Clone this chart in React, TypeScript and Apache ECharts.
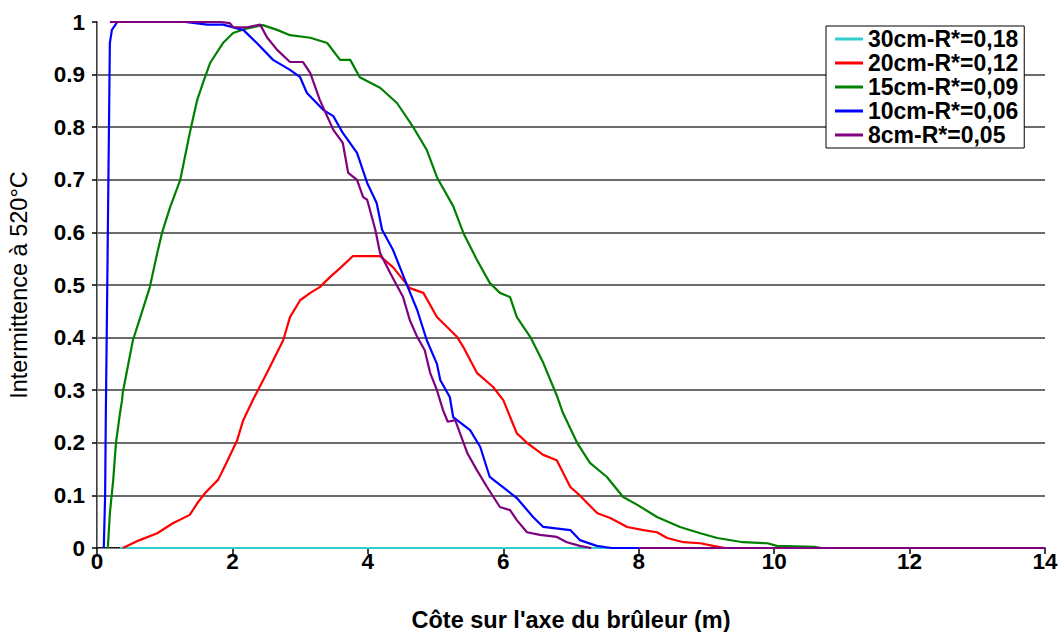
import React, { useEffect, useRef } from "react";
import * as echarts from "echarts";

const seriesNames = ["30cm-R*=0,18", "20cm-R*=0,12", "15cm-R*=0,09", "10cm-R*=0,06", "8cm-R*=0,05"];
const seriesColors = ["#33cccc", "#ff0000", "#008000", "#0000ff", "#800080"];

const data30cm: (number | string)[][] = [[0.34, 0], [14, 0]];

const data20cm: (number | string)[][] = [
  [0.38, 0], [0.63, 0.015], [0.89, 0.028], [1.12, 0.047], [1.37, 0.063], [1.48, 0.085], [1.6, 0.105],
  [1.79, 0.13], [1.93, 0.167], [2.07, 0.205], [2.16, 0.243], [2.3, 0.281], [2.51, 0.333], [2.75, 0.395],
  [2.85, 0.439], [3.0, 0.471], [3.15, 0.485], [3.29, 0.496], [3.44, 0.515], [3.59, 0.532], [3.78, 0.555],
  [4.18, 0.555], [4.37, 0.534], [4.62, 0.494], [4.82, 0.485], [5.02, 0.439], [5.17, 0.42], [5.32, 0.401],
  [5.41, 0.382], [5.61, 0.333], [5.85, 0.306], [6.0, 0.281], [6.2, 0.218], [6.35, 0.2], [6.59, 0.177],
  [6.79, 0.167], [6.99, 0.116], [7.13, 0.1], [7.39, 0.066], [7.58, 0.057], [7.83, 0.04], [8.07, 0.034],
  [8.27, 0.03], [8.42, 0.019], [8.66, 0.011], [8.91, 0.009], [9.1, 0.004], [9.28, 0], [14, 0],
];

const data15cm: (number | string)[][] = [
  [0.16, 0], [0.19, 0.066], [0.24, 0.13], [0.28, 0.2], [0.34, 0.257], [0.37, 0.281], [0.38, 0.295],
  [0.53, 0.395], [0.64, 0.439], [0.78, 0.496], [0.89, 0.561], [0.96, 0.599], [1.08, 0.648], [1.23, 0.7],
  [1.37, 0.789], [1.48, 0.852], [1.57, 0.886], [1.67, 0.922], [1.86, 0.96], [2.01, 0.979], [2.22, 0.988],
  [2.45, 0.994], [2.66, 0.985], [2.85, 0.975], [3.15, 0.97], [3.4, 0.96], [3.59, 0.928], [3.74, 0.928],
  [3.88, 0.895], [4.18, 0.875], [4.43, 0.846], [4.67, 0.8], [4.87, 0.757], [5.02, 0.705], [5.26, 0.65],
  [5.41, 0.599], [5.61, 0.548], [5.8, 0.504], [5.95, 0.485], [6.1, 0.477], [6.2, 0.439], [6.4, 0.401],
  [6.59, 0.352], [6.79, 0.29], [6.88, 0.257], [7.09, 0.2], [7.28, 0.162], [7.53, 0.135], [7.77, 0.097],
  [7.98, 0.082], [8.27, 0.059], [8.61, 0.04], [8.91, 0.028], [9.16, 0.019], [9.54, 0.011], [9.9, 0.009],
  [10.04, 0.004], [10.6, 0.002], [10.7, 0], [14, 0],
];

const data10cm: (number | string)[][] = [
  [0.1, 0], [0.12, 0.1], [0.13, 0.25], [0.15, 0.48], [0.17, 0.72], [0.19, 0.96], [0.22, 0.985], [0.3, 1.0],
  [1.3, 1.0], [1.63, 0.995], [1.86, 0.995], [2.07, 0.988], [2.16, 0.985], [2.36, 0.96], [2.6, 0.928],
  [2.85, 0.909], [3.0, 0.895], [3.1, 0.865], [3.34, 0.833], [3.49, 0.821], [3.63, 0.789], [3.84, 0.751],
  [3.99, 0.694], [4.13, 0.656], [4.21, 0.605], [4.37, 0.567], [4.59, 0.496], [4.73, 0.452], [4.87, 0.395],
  [5.02, 0.35], [5.07, 0.319], [5.21, 0.287], [5.26, 0.249], [5.51, 0.224], [5.66, 0.192], [5.8, 0.135],
  [5.99, 0.116], [6.2, 0.095], [6.44, 0.059], [6.59, 0.04], [6.99, 0.034], [7.13, 0.015], [7.38, 0.004],
  [7.6, 0], [14, 0],
];

const data8cm: (number | string)[][] = [
  [0.19, 1.0], [1.82, 1.0], [1.96, 0.998], [2.01, 0.99], [2.22, 0.99], [2.41, 0.995], [2.51, 0.971],
  [2.66, 0.947], [2.85, 0.924], [3.04, 0.924], [3.15, 0.903], [3.29, 0.852], [3.49, 0.795], [3.63, 0.77],
  [3.71, 0.713], [3.84, 0.7], [3.93, 0.667], [3.99, 0.662], [4.11, 0.605], [4.18, 0.561], [4.33, 0.523],
  [4.52, 0.477], [4.62, 0.433], [4.73, 0.401], [4.84, 0.376], [4.92, 0.333], [5.02, 0.3], [5.11, 0.262],
  [5.18, 0.24], [5.29, 0.243], [5.47, 0.18], [5.61, 0.148], [5.76, 0.116], [5.95, 0.078], [6.1, 0.072],
  [6.2, 0.053], [6.35, 0.03], [6.54, 0.025], [6.79, 0.021], [6.94, 0.011], [7.13, 0.004], [7.3, 0],
  [7.6, "-"], [8.0, 0], [14, 0],
];

const allData = [data30cm, data20cm, data15cm, data10cm, data8cm];

const xTickMin = 0;
const xTickMax = 14;
const xTickStep = 2;
const yTickMin = 0;
const yTickMax = 1;
const yTickStep = 0.1;

const xAxisTitle = "Côte sur l'axe du brûleur (m)";
const yAxisTitle = "Intermittence à 520°C";

const FONT = "'Liberation Sans', Arial, sans-serif";

export default function App() {
  const ref = useRef<HTMLDivElement>(null);
  useEffect(() => {
    document.body.style.margin = "0";
    document.body.style.overflow = "hidden";
    if (!ref.current) return;
    const chart = echarts.init(ref.current, null, { renderer: "svg" });
    const option: any = {
      animation: false,
      backgroundColor: "#ffffff",
      textStyle: { fontFamily: FONT },
      grid: { left: 97, right: 17, top: 22, bottom: 84, containLabel: false, outerBoundsMode: "none" },
      legend: {
        left: 826,
        top: 26,
        orient: "vertical",
        backgroundColor: "#ffffff",
        borderColor: "#000000",
        borderWidth: 1,
        padding: [1, 6, 1, 9],
        itemGap: 0,
        itemWidth: 28,
        itemHeight: 3,
        icon: "rect",
        textStyle: { fontFamily: FONT, fontSize: 23, fontWeight: "bold", color: "#000", lineHeight: 24 },
        data: seriesNames,
      },
      xAxis: [
        {
          type: "value",
          min: xTickMin,
          max: xTickMax,
          interval: xTickStep,
          name: xAxisTitle,
          nameLocation: "middle",
          nameGap: 60,
          nameTextStyle: { fontFamily: FONT, fontSize: 23.5, fontWeight: "bold", color: "#000" },
          axisLine: { show: true, onZero: false, lineStyle: { color: "#000", width: 1.5 } },
          axisTick: { show: true, inside: false, length: 6, lineStyle: { color: "#000", width: 1.5 } },
          axisLabel: { fontFamily: FONT, fontSize: 22.5, fontWeight: "bold", color: "#000", margin: 2 },
          splitLine: { show: false },
        },
        {
          type: "value",
          position: "top",
          min: xTickMin,
          max: xTickMax,
          axisLine: { show: true, lineStyle: { color: "#999", width: 1, type: "dotted" } },
          axisTick: { show: false },
          axisLabel: { show: false },
          splitLine: { show: false },
        },
      ],
      yAxis: [
        {
          type: "value",
          min: yTickMin,
          max: yTickMax,
          interval: yTickStep,
          name: yAxisTitle,
          nameLocation: "middle",
          nameGap: 66,
          nameRotate: 90,
          nameTextStyle: { fontFamily: FONT, fontSize: 23.5, fontWeight: "normal", color: "#000" },
          axisLine: { show: true, onZero: false, lineStyle: { color: "#000", width: 1.5 } },
          axisTick: { show: true, inside: false, length: 5, lineStyle: { color: "#000", width: 1.5 } },
          axisLabel: {
            fontFamily: FONT,
            fontSize: 22.5,
            fontWeight: "bold",
            color: "#000",
            margin: 12,
            formatter: (v: number) => String(Math.round(v * 10) / 10),
          },
          splitLine: { show: true, showMaxLine: false, lineStyle: { color: "#3a3a3a", width: 1.5 } },
        },
        {
          type: "value",
          position: "right",
          min: yTickMin,
          max: yTickMax,
          axisLine: { show: true, lineStyle: { color: "#999", width: 1, type: "dotted" } },
          axisTick: { show: false },
          axisLabel: { show: false },
          splitLine: { show: false },
        },
      ],
      series: seriesNames.map((name, i) => ({
        name,
        type: "line",
        xAxisIndex: 0,
        yAxisIndex: 0,
        data: allData[i],
        showSymbol: false,
        symbol: "none",
        connectNulls: false,
        color: seriesColors[i],
        lineStyle: { color: seriesColors[i], width: 2.2 },
        z: 2 + i,
      })),
    };
    chart.setOption(option);
    return () => chart.dispose();
  }, []);
  return (
    <div
      ref={ref}
      style={{ position: "absolute", left: 0, top: 0, width: 1062, height: 632, background: "#fff" }}
    />
  );
}
